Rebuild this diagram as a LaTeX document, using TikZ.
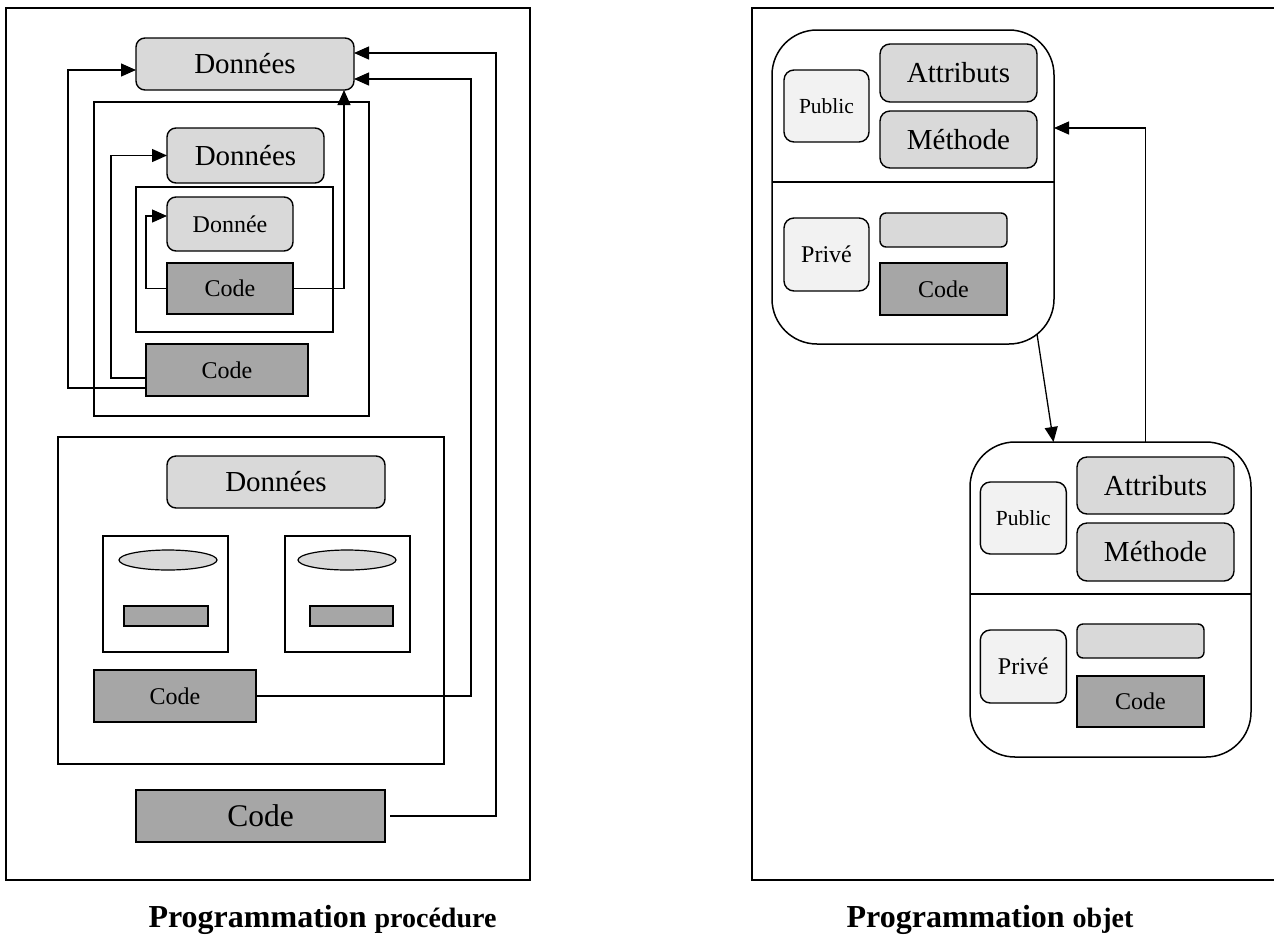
\documentclass[tikz,border=0pt]{standalone}
\usepackage{fontspec}
\setmainfont{Liberation Serif}
\usetikzlibrary{arrows.meta,shapes.geometric}
\definecolor{datafill}{HTML}{D9D9D9}
\definecolor{codefill}{HTML}{A6A6A6}
\definecolor{accfill}{HTML}{F2F2F2}

\begin{document}
\begin{tikzpicture}[x=1pt,y=-1pt,
  every node/.style={inner sep=0pt,outer sep=0pt},
  frame/.style={draw,line width=1.5pt},
  databox/.style={draw,line width=1.4pt,fill=datafill,rounded corners=9pt},
  codebox/.style={draw,line width=1.4pt,fill=codefill},
  accbox/.style={draw,line width=1.4pt,fill=accfill,rounded corners=10pt},
  objbox/.style={draw,line width=1.5pt,rounded corners=45pt},
  wire/.style={line width=1.3pt},
  arr/.style={wire,-{Triangle[length=15pt,width=13pt]}},
  txtXL/.style={font=\fontsize{31.5}{36}\selectfont},
  txtL/.style={font=\fontsize{29}{33}\selectfont},
  txtM/.style={font=\fontsize{24}{28}\selectfont},
  txtS/.style={font=\fontsize{21.5}{25}\selectfont},
  sz/.style 2 args={minimum width=#1pt,minimum height=#2pt}]

\useasboundingbox (0,0) rectangle (1274,938);

% ---------- procedural programming ----------
\draw[frame] (6,8) rectangle (530,880);
\draw[frame] (94,102) rectangle (369,416);
\draw[frame] (136,187) rectangle (333,332);
\draw[frame] (58,437) rectangle (444,764);
\draw[frame] (103,536) rectangle (228,652);
\draw[frame] (285,536) rectangle (410,652);

\node[databox,txtL,sz={218}{52}] (D1) at (245,64) {Données};
\node[databox,txtL,sz={157}{55}] (D2) at (245.5,155.5) {Données};
\node[databox,txtM,sz={126}{54}] (D3) at (230,224) {Donnée};
\node[codebox,txtM,sz={126}{51}] (C3) at (230,288.5) {Code};
\node[codebox,txtM,sz={162}{52}] (C2) at (227,370) {Code};
\node[databox,txtL,sz={218}{52}] (D4) at (276,482) {Données};
\node[ellipse,draw,line width=1.2pt,fill=datafill,sz={98}{20}] (E1) at (168,560) {};
\node[ellipse,draw,line width=1.2pt,fill=datafill,sz={98}{20}] (E2) at (347,560) {};
\node[codebox,line width=1.2pt,sz={84}{20}] (B1) at (166,616) {};
\node[codebox,line width=1.2pt,sz={83}{20}] (B2) at (351.5,616) {};
\node[codebox,txtM,sz={162}{52}] (C4) at (175,696) {Code};
\node[codebox,txtXL,sz={249}{52}] (C5) at (260.5,816) {Code};

\draw[arr] ([yshift=-18pt]C2.west) -- ++(-78,0) |- ([yshift=-6pt]D1.west);
\draw[arr] ([yshift=-8pt]C2.west) -- ++(-35,0) |- (D2.west);
\draw[arr] (C3.west) -- ++(-21,0) |- ([yshift=8pt]D3.west);
\draw[arr] (C3.east) -| ([xshift=99pt]D1.south);
\draw[arr] (C4.east) -- ++(215,0) |- ([yshift=-15pt]D1.east);
\draw[arr] ([xshift=5pt]C5.east) -- ++(106,0) |- ([yshift=11pt]D1.east);

\node[anchor=base,font=\fontsize{32}{36}\selectfont\bfseries] (capL) at (322.5,927)
  {Programmation {\fontsize{28}{32}\selectfont procédure}};

% ---------- object programming ----------
\begin{scope}
  \clip (0,0) rectangle (1274,938);
  \draw[frame] (752,8) rectangle (1290,880);
\end{scope}

\node[objbox,sz={282}{314}] (O1) at (913,187) {};
\draw[line width=1.5pt] ([yshift=5pt]O1.west) -- ([yshift=5pt]O1.east);
\node[accbox,txtS,sz={85}{72}] (Pub1) at (826.5,106) {Public};
\node[databox,txtL,rounded corners=10pt,sz={157}{58}] (Att1) at (958.5,73) {Attributs};
\node[databox,txtL,rounded corners=10pt,sz={157}{57}] (Met1) at (958.5,139.5) {Méthode};
\node[accbox,txtM,sz={85}{73}] (Prv1) at (826.5,254.5) {Privé};
\node[databox,rounded corners=6pt,sz={127}{34}] (Emp1) at (943.5,230) {};
\node[codebox,txtM,sz={127}{52}] (Cod1) at (943.5,289) {Code};

\node[objbox,sz={281}{315}] (O2) at (1110.5,599.5) {};
\draw[line width=1.5pt] ([yshift=5.5pt]O2.west) -- ([yshift=5.5pt]O2.east);
\node[accbox,txtS,sz={86}{72}] (Pub2) at (1023.3,518) {Public};
\node[databox,txtL,rounded corners=10pt,sz={157}{57}] (Att2) at (1155.5,485.5) {Attributs};
\node[databox,txtL,rounded corners=10pt,sz={157}{58}] (Met2) at (1155.5,552) {Méthode};
\node[accbox,txtM,sz={86}{73}] (Prv2) at (1023.3,666.5) {Privé};
\node[databox,rounded corners=6pt,sz={127}{34}] (Emp2) at (1140.5,641) {};
\node[codebox,txtM,sz={127}{51}] (Cod2) at (1140.5,701.5) {Code};

\draw[arr] ([xshift=124pt,yshift=10pt]O1.south) -- ([xshift=-57pt]O2.north);
\draw[arr] ([xshift=35pt]O2.north) |- ([yshift=59pt]O1.east);

\node[anchor=base,font=\fontsize{32}{36}\selectfont\bfseries] (capR) at (990,927)
  {Programmation {\fontsize{28}{32}\selectfont objet}};

\end{tikzpicture}
\end{document}
